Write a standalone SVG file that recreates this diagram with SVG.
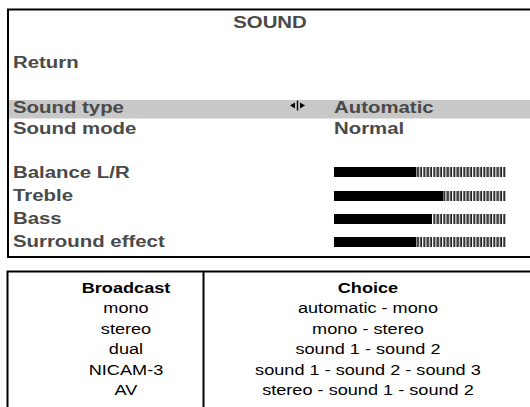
<svg xmlns="http://www.w3.org/2000/svg" width="530" height="407" viewBox="0 0 530 407">
<defs>
<pattern id="stripes" patternUnits="userSpaceOnUse" x="0" y="0" width="3.33" height="20">
<rect x="0" y="0" width="3.33" height="20" fill="#ffffff"/>
<rect x="0" y="0" width="1.1" height="20" fill="#7a7a7a"/>
<rect x="1.1" y="0" width="1.3" height="20" fill="#000000"/>
</pattern>
<style>
.menu{font-family:"Liberation Sans",Arial,sans-serif;font-size:17px;font-weight:bold;fill:#4a4a4a}
.tab{font-family:"Liberation Sans",Arial,sans-serif;font-size:15.5px;fill:#000}
.tabh{font-weight:bold}
.mid{text-anchor:middle}
.frame{fill:none;stroke:#000;stroke-width:2}
.full{fill:#000}
.part{fill:url(#stripes)}
</style>
</defs>
<rect width="530" height="407" fill="#fff"/>

<g id="menu">
<rect x="9" y="100" width="530" height="18.5" fill="#c8c8c8"/>
<rect class="frame" x="8" y="9.5" width="540" height="247.5"/>
<g transform="scale(1.2 1)">
<text class="menu mid" x="225" y="28.5">SOUND</text>
<text class="menu" x="10.8" y="68.5">Return</text>
<text class="menu" x="10.8" y="113">Sound type</text>
<text class="menu" x="278.3" y="113">Automatic</text>
<text class="menu" x="10.8" y="134">Sound mode</text>
<text class="menu" x="278.3" y="134">Normal</text>
<text class="menu" x="10.8" y="178">Balance L/R</text>
<text class="menu" x="10.8" y="201">Treble</text>
<text class="menu" x="10.8" y="224">Bass</text>
<text class="menu" x="10.8" y="247">Surround effect</text>
</g>
<g id="arrows" fill="#000">
<polygon points="290,105.5 295,102.5 295,108.5"/>
<rect x="296.8" y="100.5" width="1.4" height="10"/>
<polygon points="305,105.5 300,102.5 300,108.5"/>
</g>
</g>

<g id="bars">
<rect class="part" x="334" y="167" width="172" height="10"/>
<rect class="full" x="334" y="167" width="82" height="10"/>
<rect class="part" x="334" y="191" width="172" height="10"/>
<rect class="full" x="334" y="191" width="109" height="10"/>
<rect class="part" x="334" y="214" width="172" height="10"/>
<rect class="full" x="334" y="214" width="98" height="10"/>
<rect class="part" x="334" y="237" width="172" height="10"/>
<rect class="full" x="334" y="237" width="82" height="10"/>
</g>

<g id="table">
<rect class="frame" x="7.5" y="271.5" width="540" height="150"/>
<line x1="203.5" y1="271" x2="203.5" y2="407" stroke="#000" stroke-width="2"/>
<g transform="scale(1.17 1)">
<text class="tab tabh mid" x="107.7" y="293">Broadcast</text>
<text class="tab mid" x="107.7" y="313.5">mono</text>
<text class="tab mid" x="107.7" y="334">stereo</text>
<text class="tab mid" x="107.7" y="354.5">dual</text>
<text class="tab mid" x="107.7" y="375">NICAM-3</text>
<text class="tab mid" x="107.7" y="395.5">AV</text>
<text class="tab tabh mid" x="314.5" y="293">Choice</text>
<text class="tab mid" x="314.5" y="313.5">automatic - mono</text>
<text class="tab mid" x="314.5" y="334">mono - stereo</text>
<text class="tab mid" x="314.5" y="354.5">sound 1 - sound 2</text>
<text class="tab mid" x="314.5" y="375">sound 1 - sound 2 - sound 3</text>
<text class="tab mid" x="314.5" y="395.5">stereo - sound 1 - sound 2</text>
</g>
</g>
</svg>
